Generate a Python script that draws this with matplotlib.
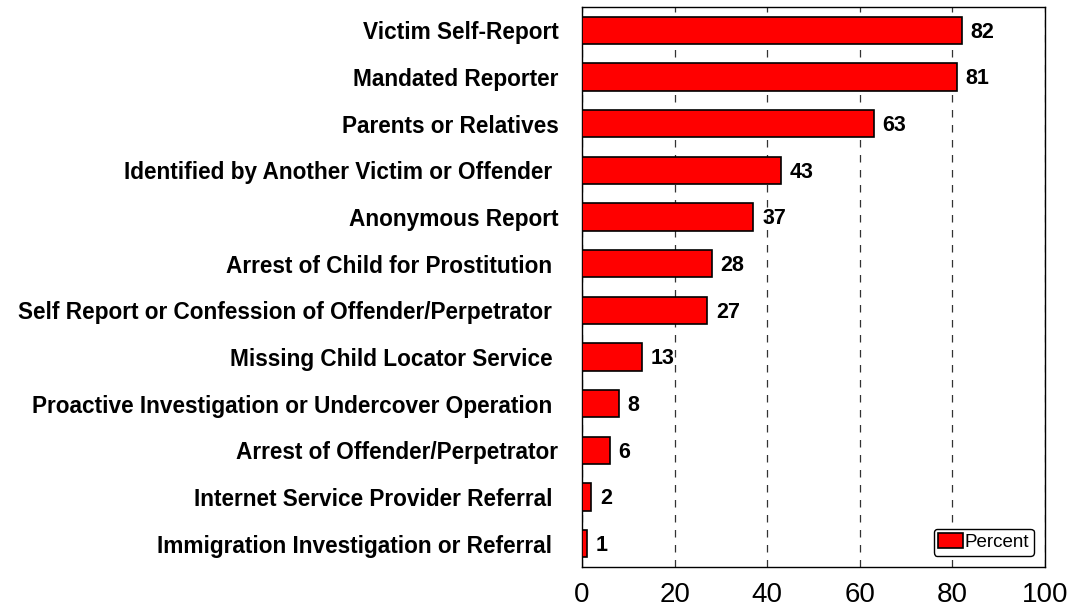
import numpy as np
import matplotlib.pyplot as plt

plt.rcParams['font.family'] = ['Liberation Sans', 'DejaVu Sans']

# --- Adatok ---
categories = [
    "Victim Self-Report",
    "Mandated Reporter",
    "Parents or Relatives",
    "Identified by Another Victim or Offender ",
    "Anonymous Report",
    "Arrest of Child for Prostitution ",
    "Self Report or Confession of Offender/Perpetrator ",
    "Missing Child Locator Service ",
    "Proactive Investigation or Undercover Operation ",
    "Arrest of Offender/Perpetrator",
    "Internet Service Provider Referral ",
    "Immigration Investigation or Referral ",
]
percent = [82, 81, 63, 43, 37, 28, 27, 13, 8, 6, 2, 1]
x_ticks = [0, 20, 40, 60, 80, 100]

fig = plt.figure(figsize=(10.73, 6.07), dpi=100)
ax = fig.add_axes([582 / 1073, 1 - 567 / 607, (1045 - 582) / 1073, (567 - 7) / 607])

y = np.arange(len(categories))
ax.barh(y, percent, height=0.58, color='#ff0000', edgecolor='black',
        linewidth=1.2, label='Percent', zorder=3)

# Értékcímkék
for yi, v in zip(y, percent):
    ax.text(v + 1.9, yi + 0.04, str(v), va='center', ha='left',
            fontsize=15.5, fontweight='bold', zorder=4)

ax.set_xlim(0, 100)
ax.set_ylim(len(categories) - 0.5, -0.5)
ax.set_xticks(x_ticks)
ax.set_xticklabels([str(t) for t in x_ticks], fontsize=20)
ax.set_yticks(y)
ax.set_yticklabels(categories, fontsize=16.3, fontweight='bold')
ax.tick_params(axis='y', length=0, pad=17)
ax.tick_params(axis='x', length=0, pad=11)

ax.xaxis.grid(True, linestyle=(0, (6, 6)), color='#333333', linewidth=0.9, zorder=0)
for s in ax.spines.values():
    s.set_linewidth(1.0)

leg = ax.legend(loc='lower right', fontsize=13.5, fancybox=True, framealpha=1,
                edgecolor='black', handlelength=1.3, handleheight=0.8,
                handletextpad=0.1, borderpad=0.25, borderaxespad=0.6)
leg.get_frame().set_linewidth(1.0)

fig.savefig('out.png', dpi=100)
